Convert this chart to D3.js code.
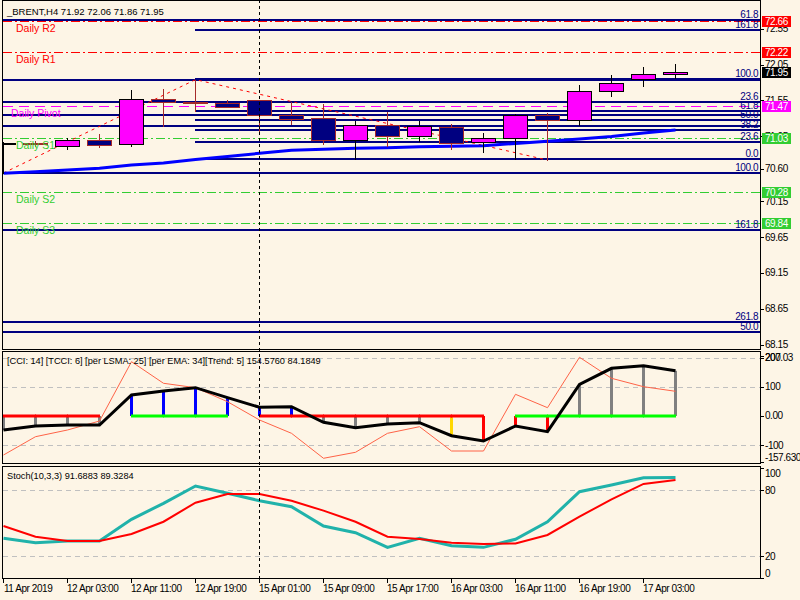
<!DOCTYPE html>
<html><head><meta charset="utf-8">
<script src="https://cdn.jsdelivr.net/npm/d3@7"></script>
<style>
html,body{margin:0;padding:0;background:#FDF5E6;}
svg{display:block;}
text{font-family:"Liberation Sans",Arial,sans-serif;}
</style></head><body>
<svg id="chart" width="800" height="600"></svg>
<script>
// ---------- DATA ----------
const times = ["11 Apr 19:00","11 Apr 23:00","12 Apr 03:00","12 Apr 07:00","12 Apr 11:00","12 Apr 15:00",
  "12 Apr 19:00","12 Apr 23:00","15 Apr 01:00","15 Apr 05:00","15 Apr 09:00","15 Apr 13:00","15 Apr 17:00",
  "15 Apr 21:00","16 Apr 03:00","16 Apr 07:00","16 Apr 11:00","16 Apr 15:00","16 Apr 19:00","16 Apr 23:00",
  "17 Apr 03:00","17 Apr 07:00"];
const open  = [70.96,70.958,70.912,71.006,70.940,71.566,71.535,71.510,71.556,71.343,71.302,70.995,71.204,71.059,71.176,70.968,71.023,71.348,71.278,71.682,71.844,71.92];
const high  = [70.97,70.985,71.027,71.079,71.695,71.709,71.840,71.556,71.563,71.533,71.501,71.268,71.393,71.268,71.222,71.097,71.360,71.371,71.765,71.900,72.020,72.06];
const low   = [70.54,70.916,70.870,70.902,70.920,71.199,71.403,71.452,71.115,71.226,70.948,70.735,70.920,70.986,70.878,70.837,70.731,70.721,71.208,71.616,71.755,71.86];
const close = [70.962,70.944,71.000,70.926,71.570,71.524,71.535,71.455,71.343,71.288,70.995,71.204,71.059,71.190,70.954,71.023,71.343,71.278,71.682,71.793,71.918,71.95];
const maValues = [70.536,70.558,70.582,70.606,70.652,70.679,70.728,70.770,70.814,70.856,70.870,70.884,70.892,70.906,70.912,70.920,70.951,70.981,71.013,71.048,71.097,71.139];

const zigzagTimes  = ["11 Apr 19:00","12 Apr 19:00","16 Apr 15:00"];
const zigzagPrices = [70.54, 71.84, 70.72];

const dailyNames  = ["Daily R2","Daily R1","Daily Pivot","Daily S1","Daily S2","Daily S3"];
const dailyLevels = [72.66, 72.22, 71.47, 71.03, 70.28, 69.84];

const fibPrices = [72.67, 71.835, 71.533, 71.348, 71.194, 70.54, 69.747, 68.470, 68.323,
                   72.527, 71.845, 71.407, 71.278, 71.139, 70.976, 70.731];
const fibLabels = ["61.8","","23.6","","","100.0","161.8","261.8","50.0",
                   "161.8","100.0","61.8","50.0","38.2","23.6","0.0"];
const fibStart  = ["11 Apr 19:00","11 Apr 19:00","11 Apr 19:00","11 Apr 19:00","11 Apr 19:00","11 Apr 19:00","11 Apr 19:00","11 Apr 19:00","11 Apr 19:00",
                   "12 Apr 19:00","12 Apr 19:00","12 Apr 19:00","12 Apr 19:00","12 Apr 19:00","12 Apr 19:00","12 Apr 19:00"];

const priceTicks = [72.55, 72.05, 71.55, 71.05, 70.60, 70.15, 69.65, 69.15, 68.65, 68.15];
const lastPrice = 71.95;

const cciValues  = [-134.3,-71.5,-48.5,-17.7,185.8,111.7,96.6,48.5,-14.2,-59.9,-145.6,-125,-59.9,-37.2,-120.6,-120.6,73.9,28,200.9,128.8,100,84.18];
const tcciValues = [-48.5,-34.8,-31.4,-31.4,71.5,85.2,96.6,62.3,29.3,31.4,-22.1,-40.7,-28,-23.5,-68.1,-86.3,-34.8,-54.4,108.2,163.1,172,154.58];
const histState  = ["flat","flat","flat","flat","up","up","up","up","up","up","flat","flat","flat","flat","warn","down","down","down","flat","flat","flat","flat"];
const trendState = ["down","down","down","down","up","up","up","up","down","down","down","down","down","down","down","down","up","up","up","up","up","up"];
const cciTicks = [200, 100, 0, -100];
const cciTickText = ["200","100","0.00","-100"];
const cciMax = 207.03, cciMin = -157.63;

const stochMain   = [36.2,32.1,33.7,33.7,53.5,68.1,83.9,77.3,70.5,65.0,47.4,41.3,27.9,36.2,29.4,27.9,35.3,51.3,78.7,84.8,91.5,91.69];
const stochSignal = [47.4,37.6,33.7,33.7,40.1,51.3,68.7,76.6,76.6,70.5,61.4,51.3,37.6,35.5,32.1,31.0,31.4,39.2,55.9,71.8,85.8,89.33];
const stochTicks = [100, 80, 20, 0];
const stochGrid = [80, 20];

const axisTimes = ["11 Apr 19:00","12 Apr 03:00","12 Apr 11:00","12 Apr 19:00","15 Apr 01:00","15 Apr 09:00","15 Apr 17:00","16 Apr 03:00","16 Apr 11:00","16 Apr 19:00","17 Apr 03:00"];
const axisText  = ["11 Apr 2019","12 Apr 03:00","12 Apr 11:00","12 Apr 19:00","15 Apr 01:00","15 Apr 09:00","15 Apr 17:00","16 Apr 03:00","16 Apr 11:00","16 Apr 19:00","17 Apr 03:00"];
const markerTime = "15 Apr 01:00";

const titleText = "_BRENT,H4  71.92 72.06 71.86 71.95";
const cciText = "[CCI: 14] [TCCI: 6] [per LSMA: 25] [per EMA: 34][Trend: 5]  154.5760 84.1849";
const stochText = "Stoch(10,3,3) 91.6883 89.3284";

// ---------- STYLE ----------
const BG = "#FDF5E6";
const dailyColors = ["#FF0000","#FF0000","#FF00FF","#32CD32","#32CD32","#32CD32"];
const dailyDash = ["9,3,2,3","9,3,2,3","10,6","9,3,2,3","9,3,2,3","9,3,2,3"];
const dailyLabelX = [16,16,11,16,16,16];
const histColors = {flat:"#808080", up:"#0000FF", warn:"#FFD700", down:"#FF0000"};
const trendColors = {up:"#00FF00", down:"#FF0000"};
const AXF = "10px", AXLS = "-0.45px";

// ---------- LAYOUT ----------
const L = 3, R = 760;
const P1 = {top: 0, bottom: 349};
const P2 = {top: 351, bottom: 463};
const P3 = {top: 466, bottom: 578};

const svg = d3.select("#chart");
svg.append("rect").attr("width",800).attr("height",600).attr("fill",BG);

const x = d3.scalePoint().domain(times).range([3, 675]);
const yP = d3.scaleLinear().domain([68.15, 72.66]).range([344.7, 20.7]);
const yC = d3.scaleLinear().domain([cciMin, cciMax]).range([461.8, 355.5]);
const yS = d3.scaleLinear().domain([0, 100]).range([577.9, 468.4]);
const rd = v => Math.round(v);
const hx = t => x(t) + 0.5;

const defs = svg.append("defs");
[["c1",P1],["c2",P2],["c3",P3]].forEach(([id,p]) => {
  defs.append("clipPath").attr("id",id).append("rect")
    .attr("x",L).attr("y",p.top).attr("width",R-L).attr("height",p.bottom-p.top);
});

// ===== MAIN PANEL =====
const g1 = svg.append("g").attr("clip-path","url(#c1)");

dailyLevels.forEach((v,i) => {
  const y = rd(yP(v)) + 0.5;
  g1.append("line").attr("x1",L).attr("x2",R).attr("y1",y).attr("y2",y)
    .attr("stroke",dailyColors[i]).attr("stroke-width",1).attr("stroke-dasharray",dailyDash[i]);
});

fibPrices.forEach((v,i) => {
  const y = rd(yP(v));
  const xs = fibStart[i] === times[0] ? L : x(fibStart[i]);
  g1.append("line").attr("x1",xs).attr("x2",R).attr("y1",y).attr("y2",y)
    .attr("stroke","#000080").attr("stroke-width",2);
});

const zz = zigzagTimes.map((t,i) => [hx(t), yP(zigzagPrices[i])]);
g1.append("path").attr("d", d3.line()(zz)).attr("fill","none")
  .attr("stroke","#FF0000").attr("stroke-width",1).attr("stroke-dasharray","3,4");

g1.append("path").attr("d", d3.line().x((d,i)=>hx(times[i])).y(d=>yP(d))(maValues))
  .attr("fill","none").attr("stroke","#0000FF").attr("stroke-width",3);

times.forEach((t,i) => {
  const up = close[i] > open[i];
  const edge = up ? "#000000" : "#A52A2A";
  const fill = up ? "#FF00FF" : "#000080";
  const cx = hx(t);
  g1.append("line").attr("x1",cx).attr("x2",cx).attr("y1",rd(yP(high[i]))).attr("y2",rd(yP(low[i]))+1)
    .attr("stroke",edge).attr("stroke-width",1);
  const yt = rd(yP(Math.max(open[i],close[i])));
  const yb = rd(yP(Math.min(open[i],close[i])));
  g1.append("rect").attr("x",x(t)-12+0.5).attr("y",yt+0.5).attr("width",24).attr("height",Math.max(yb-yt,1))
    .attr("fill",fill).attr("stroke",edge).attr("stroke-width",1);
});

dailyLevels.forEach((v,i) => {
  g1.append("text").attr("x",dailyLabelX[i]).attr("y",rd(yP(v))+11)
    .attr("font-size","10.5px").attr("fill",dailyColors[i]).text(dailyNames[i]);
});

fibPrices.forEach((v,i) => {
  if (!fibLabels[i]) return;
  g1.append("text").attr("x",758).attr("y",rd(yP(v))-2).attr("text-anchor","end")
    .attr("font-size",AXF).attr("letter-spacing",AXLS).attr("fill","#000080").text(fibLabels[i]);
});

svg.append("text").attr("x",7).attr("y",15).attr("font-size","9.5px").attr("fill","#000").text(titleText);

// ===== CCI PANEL =====
const g2 = svg.append("g").attr("clip-path","url(#c2)");
cciTicks.filter(v => v !== 0).forEach(v => {
  const y = rd(yC(v)) + 0.5;
  g2.append("line").attr("x1",L).attr("x2",R).attr("y1",y).attr("y2",y)
    .attr("stroke","#C0C0C0").attr("stroke-dasharray","5,4");
});
const y0 = rd(yC(0));
times.forEach((t,i) => {
  g2.append("line").attr("x1",hx(t)).attr("x2",hx(t)).attr("y1",y0).attr("y2",yC(tcciValues[i]))
    .attr("stroke",histColors[histState[i]]).attr("stroke-width",3);
});
for (let i = 0; i < times.length - 1; i++) {
  if (trendState[i] === trendState[i+1]) {
    g2.append("line").attr("x1",x(times[i])).attr("x2",x(times[i+1])+1).attr("y1",y0).attr("y2",y0)
      .attr("stroke",trendColors[trendState[i]]).attr("stroke-width",3);
  }
}
g2.append("path").attr("d", d3.line().x((d,i)=>hx(times[i])).y(d=>yC(d))(cciValues))
  .attr("fill","none").attr("stroke","#FF6347").attr("stroke-width",1);
g2.append("path").attr("d", d3.line().x((d,i)=>hx(times[i])).y(d=>yC(d))(tcciValues))
  .attr("fill","none").attr("stroke","#000000").attr("stroke-width",3);
svg.append("text").attr("x",7).attr("y",364).attr("font-size","9.2px").attr("fill","#000").text(cciText);

// ===== STOCH PANEL =====
const g3 = svg.append("g").attr("clip-path","url(#c3)");
stochGrid.forEach(v => {
  const y = rd(yS(v)) + 0.5;
  g3.append("line").attr("x1",L).attr("x2",R).attr("y1",y).attr("y2",y)
    .attr("stroke","#C0C0C0").attr("stroke-dasharray","5,4");
});
g3.append("path").attr("d", d3.line().x((d,i)=>hx(times[i])).y(d=>yS(d))(stochMain))
  .attr("fill","none").attr("stroke","#20B2AA").attr("stroke-width",3);
g3.append("path").attr("d", d3.line().x((d,i)=>hx(times[i])).y(d=>yS(d))(stochSignal))
  .attr("fill","none").attr("stroke","#FF0000").attr("stroke-width",2);
svg.append("text").attr("x",7).attr("y",479).attr("font-size","9.2px").attr("fill","#000").text(stochText);

svg.append("line").attr("x1",hx(markerTime)).attr("x2",hx(markerTime)).attr("y1",0).attr("y2",P3.bottom)
  .attr("stroke","#000").attr("stroke-dasharray","3,3");

[P1,P2,P3].forEach(p => {
  svg.append("rect").attr("x",L-0.5).attr("y",p.top+0.5).attr("width",R-L+1).attr("height",p.bottom-p.top)
    .attr("fill","none").attr("stroke","#000").attr("stroke-width",1);
});

// ===== RIGHT AXES =====
const ax = svg.append("g");
function tickLabel(y, txt, dy) {
  ax.append("line").attr("x1",R).attr("x2",R+4).attr("y1",rd(y)+0.5).attr("y2",rd(y)+0.5).attr("stroke","#000");
  ax.append("text").attr("x",R+5).attr("y",y + (dy||0) + 3.6).attr("font-size",AXF).attr("letter-spacing",AXLS)
    .attr("fill","#000").text(txt);
}
priceTicks.forEach(v => tickLabel(yP(v), d3.format(".2f")(v)));

const boxVals = dailyLevels.concat([lastPrice]);
const boxColors = dailyColors.concat(["#000000"]);
boxVals.forEach((v,i) => {
  const y = rd(yP(v));
  ax.append("rect").attr("x",R+2).attr("y",y-5).attr("width",29).attr("height",11).attr("fill",boxColors[i]);
  ax.append("text").attr("x",R+5).attr("y",y+4).attr("font-size",AXF).attr("letter-spacing",AXLS)
    .attr("fill","#FFFFFF").text(d3.format(".2f")(v));
});

tickLabel(yC(cciMax), "207.03", 2);
cciTicks.forEach((v,i) => tickLabel(yC(v), cciTickText[i], 0));
tickLabel(yC(cciMin), "-157.630", -4.5);

stochTicks.forEach(v => tickLabel(yS(v), String(v), v===100?5:(v===0?-5:0)));

axisTimes.forEach((t,i) => {
  ax.append("line").attr("x1",hx(t)).attr("x2",hx(t)).attr("y1",P3.bottom).attr("y2",P3.bottom+5).attr("stroke","#000");
  ax.append("text").attr("x",i===0 ? 4 : x(t)).attr("y",591.5).attr("font-size",AXF).attr("letter-spacing",AXLS)
    .attr("fill","#000").text(axisText[i]);
});
</script>
</body></html>
